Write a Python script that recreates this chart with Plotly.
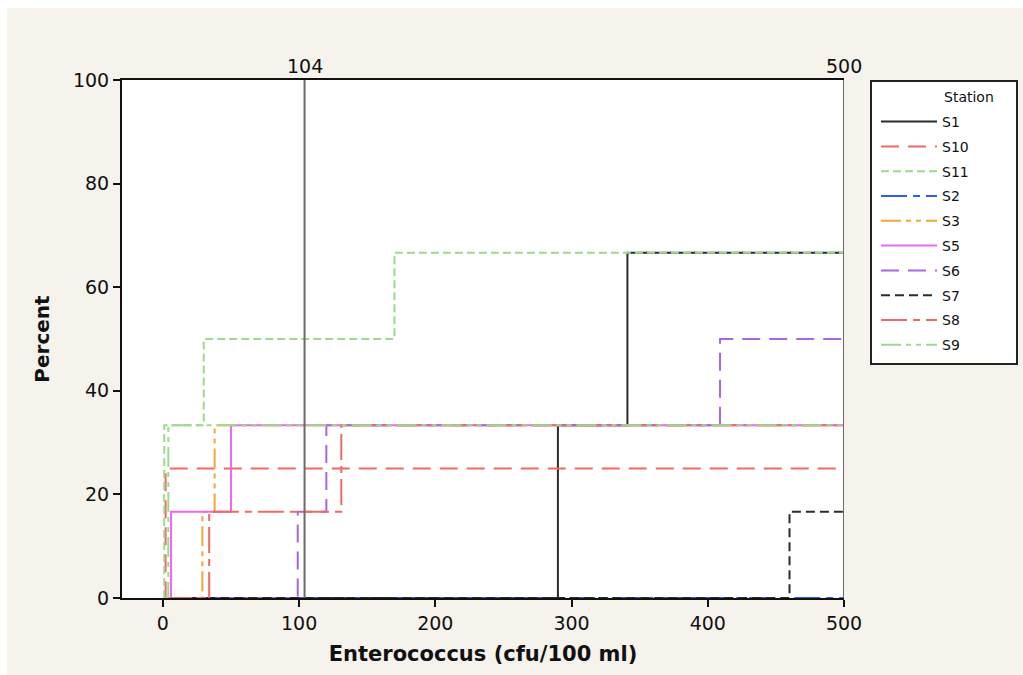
import plotly.graph_objects as go

# Station order as listed in the legend (also the drawing order)
stations = ["S1", "S10", "S11", "S2", "S3", "S5", "S6", "S7", "S8", "S9"]

# Number of samples per station
sample_sizes = [3, 4, 6, 6, 6, 6, 6, 6, 6, 3]

# Enterococcus counts (cfu/100 ml) that fall inside the plotted range 0-500
s1_values = [290, 341]
s10_values = [2]
s11_values = [1, 1, 30, 170]
s2_values = []
s3_values = [29, 38]
s5_values = [6, 50]
s6_values = [99, 120, 409]
s7_values = [460]
s8_values = [34, 131]
s9_values = [4]

# Reference lines on the x axis
reference_values = [104, 500]

x_ticks = [0, 100, 200, 300, 400, 500]
y_ticks = [0, 20, 40, 60, 80, 100]

station_values = [s1_values, s10_values, s11_values, s2_values, s3_values,
                  s5_values, s6_values, s7_values, s8_values, s9_values]

colors = ["#2b2b2b", "#ef6a60", "#9fd98e", "#2a5ff0", "#f4a53c",
          "#ef66ef", "#a667e0", "#2b2b2b", "#ef6a60", "#9fd98e"]
dashes = ["solid", "18px,9px", "8px,4px", "26px,6px,7px,6px",
          "20px,5px,5px,5px,5px,5px", "solid", "18px,9px", "9px,5px",
          "26px,6px,7px,6px", "20px,5px,5px,5px,5px,5px"]

X_MIN, X_MAX = -30, 500
FONT = "DejaVu Sans"

all_vals = [v for vals in station_values for v in vals]
x_start = min(all_vals)

fig = go.Figure()

for name, n, vals, col, dash in zip(stations, sample_sizes, station_values, colors, dashes):
    vals = sorted(vals)
    xs = [x_start] + vals + [X_MAX]
    ys = [0.0] + [100.0 * (i + 1) / n for i in range(len(vals))]
    ys = ys + [ys[-1]]
    fig.add_trace(go.Scatter(
        x=xs, y=ys, mode="lines", name=name, legendgroup=name,
        line=dict(color=col, width=2, dash=dash, shape="hv"),
        hoverinfo="skip",
    ))

# Vertical reference lines with their labels above the frame
for rv in reference_values:
    fig.add_shape(type="line", xref="x", yref="paper", x0=rv, x1=rv, y0=0, y1=1,
                  line=dict(color="#6a6a6a", width=2), layer="above")
    fig.add_annotation(x=rv, xref="x", y=1, yref="paper", yanchor="bottom",
                       text=str(rv), showarrow=False, yshift=1,
                       font=dict(family=FONT, size=19, color="#111111"))

# Beige page with a thin white edge
fig.add_shape(type="rect", xref="paper", yref="paper",
              x0=(7 - 122) / 722, x1=(1030 - 122) / 722,
              y0=(598 - 680) / 518, y1=(598 - 8) / 518,
              fillcolor="#f6f2ec", line=dict(width=0), layer="below")
# White data region
fig.add_shape(type="rect", xref="paper", yref="paper", x0=0, x1=1, y0=0, y1=1,
              fillcolor="white", line=dict(width=0), layer="below")

# Legend frame
fig.add_shape(type="rect", xref="paper", yref="paper",
              x0=(871 - 122) / 722, x1=(1017 - 122) / 722,
              y0=(598 - 364) / 518, y1=(598 - 81) / 518,
              fillcolor="white", line=dict(color="#222222", width=2), layer="below")
fig.add_annotation(x=(942 - 122) / 722, xref="paper", y=(598 - 97) / 518, yref="paper",
                   xanchor="left", yanchor="middle", text="Station", showarrow=False,
                   font=dict(family=FONT, size=14, color="#111111"))

fig.update_layout(
    width=1023, height=675,
    margin=dict(l=122, r=179, t=80, b=77),
    paper_bgcolor="white",
    plot_bgcolor="white",
    showlegend=True,
    legend=dict(
        x=(876 - 122) / 722, xanchor="left",
        y=(598 - 106) / 518, yanchor="top",
        bgcolor="rgba(0,0,0,0)", borderwidth=0,
        font=dict(family=FONT, size=14, color="#111111"),
        tracegroupgap=3.6, itemwidth=56,
    ),
    font=dict(family=FONT, color="#111111"),
)

fig.update_xaxes(
    range=[X_MIN, X_MAX], tickvals=x_ticks, ticks="outside", ticklen=7,
    tickwidth=2, tickcolor="#111111", showgrid=False, zeroline=False,
    showline=True, linecolor="#111111", linewidth=2, mirror=True,
    tickfont=dict(family=FONT, size=19),
    title=dict(text="<b>Enterococcus (cfu/100 ml)</b>", font=dict(family=FONT, size=21), standoff=14),
)
fig.update_yaxes(
    range=[0, 100], tickvals=y_ticks, ticks="outside", ticklen=7,
    tickwidth=2, tickcolor="#111111", showgrid=False, zeroline=False,
    showline=True, linecolor="#111111", linewidth=2, mirror=False,
    tickfont=dict(family=FONT, size=19),
    title=dict(text="<b>Percent</b>", font=dict(family=FONT, size=20), standoff=18),
)

fig.write_html("out.html")
